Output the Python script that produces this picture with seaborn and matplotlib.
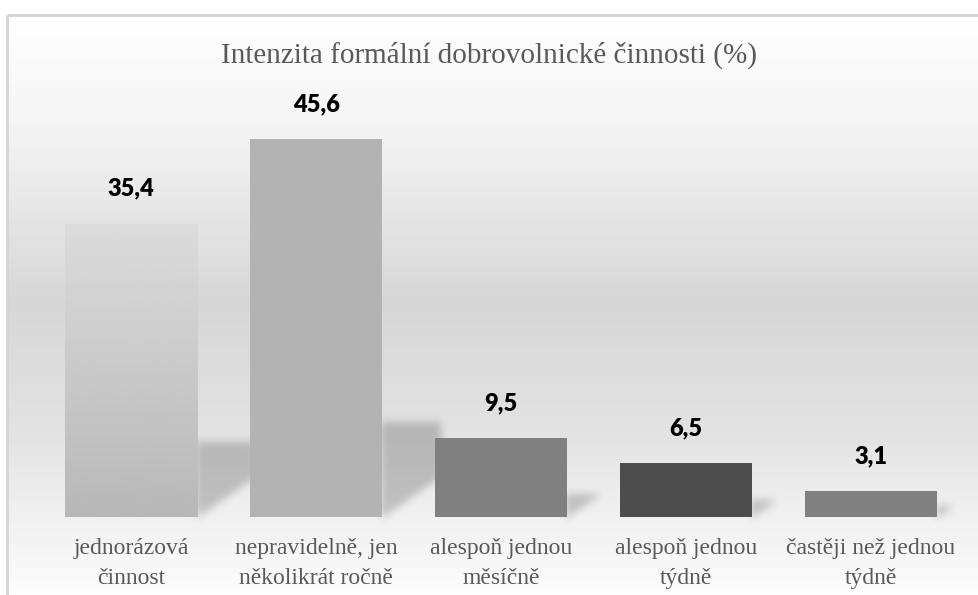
import numpy as np
import pandas as pd
import seaborn as sns
import matplotlib.pyplot as plt
from matplotlib.patches import Rectangle

# data
categories = ['jednorázová\nčinnost', 'nepravidelně, jen\nněkolikrát ročně',
              'alespoň jednou\nměsíčně', 'alespoň jednou\ntýdně',
              'častěji než jednou\ntýdně']
values = [35.4, 45.6, 9.5, 6.5, 3.1]
value_labels = ['35,4', '45,6', '9,5', '6,5', '3,1']
bar_colors = ['#c8c8c8', '#b3b3b3', '#808080', '#4d4d4d', '#808080']

df = pd.DataFrame({'kategorie': categories, 'podil': values})

sns.set_theme(style='white')
serif = ['Liberation Serif', 'DejaVu Serif']
plt.rcParams['font.family'] = serif

W, H = 979, 595
fig = plt.figure(figsize=(W / 100, H / 100), dpi=100)

# background with grey gradient and a thin border
bg = fig.add_axes([0, 0, 1, 1], zorder=0)
bg.set_xlim(0, W)
bg.set_ylim(H, 0)
bg.axis('off')
ys = np.array([15, 120, 300, 420, 595])
shades = np.array([0.995, 0.96, 0.84, 0.88, 0.99])
grad = np.interp(np.arange(15, H), ys, shades)[:, None]
bg.imshow(grad, cmap='gray', vmin=0, vmax=1, aspect='auto',
          extent=[7, W, H, 15], interpolation='nearest')
bg.add_patch(Rectangle((7, 15), 990, 600, fill=False, edgecolor='#d4d4d4', lw=2))

ax = fig.add_axes([38.5 / W, 78 / H, 925 / W, 414.5 / H], zorder=1)
ax.patch.set_alpha(0)
sns.barplot(data=df, x='kategorie', y='podil', hue='kategorie', palette=bar_colors,
            width=0.714, legend=False, saturation=1, linewidth=0, ax=ax)
ax.set_ylim(0, 50)
ax.set_xlim(-0.5, 4.5)

# first bar has a light gradient fill
first = ax.patches[0]
bx, bw, bh = first.get_x(), first.get_width(), first.get_height()
first.set_facecolor('none')
g = np.linspace(0.86, 0.72, 100)[:, None]
im = ax.imshow(g, cmap='gray', vmin=0, vmax=1, aspect='auto',
               extent=[bx, bx + bw, 0, bh], zorder=2)
im.set_clip_path(first)

# soft cast shadows behind the bars
fig.canvas.draw()
mask = np.zeros((H, W))
xx, yy = np.meshgrid(np.arange(W), np.arange(H))
for p in ax.patches:
    ext = p.get_window_extent()
    right, base, hpx = ext.x1, H - ext.y0, ext.height
    s = 0.24 * hpx + 5
    reach = min(s / 0.7, 58)
    inside = ((xx >= right - 2) & (xx <= right + reach) &
              (yy >= base - s) & (yy <= base - 0.7 * (xx - right)))
    mask[inside] = 1
k = np.exp(-0.5 * (np.arange(-12, 13) / 4.0) ** 2)
k /= k.sum()
mask = np.apply_along_axis(lambda r: np.convolve(r, k, mode='same'), 1, mask)
mask = np.apply_along_axis(lambda c: np.convolve(c, k, mode='same'), 0, mask)
shadow = np.zeros((H, W, 4))
shadow[..., 3] = 0.2 * mask
bg.imshow(shadow, extent=[0, W, H, 0], aspect='auto', interpolation='nearest', zorder=3)

for p, lab in zip(ax.patches, value_labels):
    ax.annotate(lab, (p.get_x() + p.get_width() / 2, p.get_height()),
                xytext=(0, 25), textcoords='offset points', ha='center', va='center',
                fontsize=17, fontweight='heavy', family=['Lato', 'DejaVu Sans'],
                color='black')

ax.set_xlabel('')
ax.set_ylabel('')
ax.set_yticks([])
ax.tick_params(axis='x', length=0, pad=15)
for t in ax.get_xticklabels():
    t.set_family(serif)
    t.set_fontsize(17)
    t.set_color('#595959')
    t.set_linespacing(1.55)
sns.despine(ax=ax, left=True, bottom=True)

fig.text(0.5, 1 - 55 / H, 'Intenzita formální dobrovolnické činnosti (%)',
         ha='center', va='center', fontsize=21, color='#595959', family=serif)

fig.savefig('out.png', dpi=100)
